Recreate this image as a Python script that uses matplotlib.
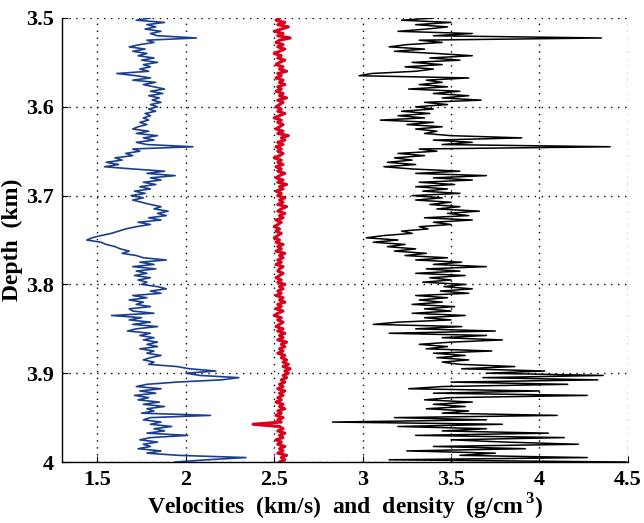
import numpy as np
import matplotlib
matplotlib.use("Agg")
import matplotlib.pyplot as plt

plt.rcParams.update({
    "font.family": "Liberation Serif",
    "font.weight": "bold",
    "mathtext.fontset": "custom",
    "mathtext.rm": "Liberation Serif:bold",
    "mathtext.bf": "Liberation Serif:bold",
})

# depth samples (km), every 2.5 m from 3.5 to 4.0
depth_km = np.round(np.arange(201) * 0.0025 + 3.5, 4)

# shear velocity (km/s), blue
vs = [
    1.80, 1.72, 1.88, 1.78, 1.83, 1.77, 1.86, 1.80, 1.84, 2.06,
    1.78, 1.82, 1.74, 1.68, 1.77, 1.70, 1.78, 1.73, 1.82, 1.75,
    1.84, 1.76, 1.80, 1.74, 1.79, 1.61, 1.72, 1.80, 1.70, 1.83,
    1.76, 1.82, 1.88, 1.80, 1.87, 1.79, 1.85, 1.81, 1.86, 1.80,
    1.84, 1.79, 1.83, 1.77, 1.80, 1.76, 1.79, 1.74, 1.78, 1.73,
    1.70, 1.79, 1.72, 1.84, 1.76, 1.82, 1.72, 1.78, 2.04, 1.70,
    1.74, 1.66, 1.70, 1.60, 1.64, 1.55, 1.62, 1.54, 1.70, 1.88,
    1.78, 1.94, 1.80, 1.86, 1.76, 1.83, 1.74, 1.80, 1.71, 1.77,
    1.69, 1.76, 1.70, 1.75, 1.80, 1.86, 1.82, 1.90, 1.84, 1.89,
    1.79, 1.86, 1.73, 1.80, 1.72, 1.66, 1.62, 1.58, 1.52, 1.47,
    1.44, 1.52, 1.55, 1.60, 1.63, 1.68, 1.64, 1.72, 1.76, 1.89,
    1.74, 1.82, 1.70, 1.83, 1.72, 1.78, 1.71, 1.80, 1.73, 1.78,
    1.75, 1.84, 1.89, 1.80, 1.86, 1.70, 1.78, 1.68, 1.76, 1.72,
    1.80, 1.68, 1.70, 1.82, 1.58, 1.75, 1.68, 1.80, 1.70, 1.84,
    1.72, 1.67, 1.80, 1.74, 1.82, 1.76, 1.84, 1.78, 1.84, 1.74,
    1.82, 1.78, 1.86, 1.80, 1.76, 1.82, 1.79, 1.95, 2.02, 2.17,
    2.00, 2.08, 2.30, 2.20, 1.95, 1.78, 1.72, 1.86, 1.74, 1.83,
    1.71, 1.79, 1.73, 1.85, 1.76, 1.88, 1.78, 1.82, 1.75, 2.14,
    1.80, 1.76, 1.86, 1.80, 1.92, 1.82, 1.88, 1.78, 2.01, 1.80,
    1.74, 1.84, 1.76, 1.80, 1.73, 1.86, 1.78, 1.96, 2.34, 2.12,
    1.94,
]

# density (g/cm3), red
rho = [
    2.53, 2.51, 2.56, 2.52, 2.58, 2.54, 2.50, 2.55, 2.52, 2.59,
    2.53, 2.51, 2.55, 2.52, 2.56, 2.53, 2.50, 2.54, 2.52, 2.56,
    2.53, 2.51, 2.55, 2.53, 2.57, 2.52, 2.54, 2.51, 2.55, 2.53,
    2.56, 2.52, 2.54, 2.51, 2.55, 2.53, 2.57, 2.52, 2.55, 2.53,
    2.51, 2.54, 2.52, 2.56, 2.53, 2.50, 2.54, 2.52, 2.55, 2.53,
    2.51, 2.55, 2.52, 2.58, 2.54, 2.56, 2.52, 2.55, 2.51, 2.54,
    2.52, 2.55, 2.53, 2.50, 2.54, 2.52, 2.55, 2.51, 2.54, 2.52,
    2.56, 2.53, 2.51, 2.55, 2.52, 2.57, 2.53, 2.55, 2.51, 2.54,
    2.52, 2.56, 2.53, 2.55, 2.52, 2.57, 2.54, 2.52, 2.56, 2.53,
    2.55, 2.51, 2.54, 2.52, 2.50, 2.53, 2.51, 2.54, 2.52, 2.50,
    2.53, 2.51, 2.55, 2.52, 2.54, 2.51, 2.56, 2.53, 2.55, 2.52,
    2.54, 2.51, 2.55, 2.53, 2.52, 2.55, 2.53, 2.51, 2.54, 2.52,
    2.56, 2.53, 2.55, 2.52, 2.54, 2.51, 2.55, 2.53, 2.56, 2.52,
    2.54, 2.51, 2.55, 2.52, 2.50, 2.54, 2.52, 2.55, 2.53, 2.51,
    2.55, 2.52, 2.56, 2.53, 2.55, 2.52, 2.57, 2.54, 2.56, 2.53,
    2.55, 2.52, 2.56, 2.54, 2.57, 2.55, 2.58, 2.55, 2.59, 2.56,
    2.58, 2.55, 2.57, 2.54, 2.56, 2.53, 2.55, 2.52, 2.56, 2.53,
    2.55, 2.52, 2.54, 2.51, 2.55, 2.53, 2.56, 2.52, 2.54, 2.51,
    2.55, 2.52, 2.54, 2.38, 2.53, 2.55, 2.52, 2.56, 2.53, 2.55,
    2.51, 2.54, 2.52, 2.56, 2.53, 2.55, 2.52, 2.57, 2.54, 2.56,
    2.53,
]

# compressional velocity (km/s), black
vp = [
    3.40, 3.22, 3.50, 3.30, 3.48, 3.36, 3.20, 3.62, 3.40, 4.35,
    3.32, 3.45, 3.25, 3.15, 3.35, 3.18, 3.42, 3.62, 3.38, 3.55,
    3.28, 3.45, 3.24, 3.40, 3.30, 3.05, 2.98, 3.60, 3.36, 3.45,
    3.32, 3.48, 3.26, 3.55, 3.40, 3.60, 3.45, 3.67, 3.35, 3.48,
    3.30, 3.40, 3.22, 3.38, 3.20, 3.35, 3.10, 3.40, 3.25, 3.45,
    3.30, 3.42, 3.35, 3.50, 3.90, 3.40, 3.62, 3.45, 4.40, 3.32,
    3.42, 3.20, 3.35, 3.18, 3.28, 3.14, 3.30, 3.12, 3.28, 3.55,
    3.30, 3.70, 3.40, 3.62, 3.32, 3.52, 3.30, 3.48, 3.34, 3.55,
    3.28, 3.45, 3.30, 3.50, 3.38, 3.55, 3.42, 3.66, 3.48, 3.60,
    3.35, 3.62, 3.40, 3.50, 3.32, 3.37, 3.22, 3.28, 3.12, 3.02,
    3.20, 3.06, 3.24, 3.14, 3.30, 3.18, 3.36, 3.24, 3.48, 3.30,
    3.56, 3.40, 3.70, 3.36, 3.55, 3.30, 3.58, 3.38, 3.50, 3.34,
    3.58, 3.46, 3.62, 3.44, 3.60, 3.30, 3.48, 3.32, 3.45, 3.28,
    3.52, 3.35, 3.50, 3.28, 3.58, 3.35, 3.50, 3.20, 3.06, 3.56,
    3.30, 3.75, 3.15, 3.70, 3.45, 3.79, 3.50, 3.32, 3.48, 3.36,
    3.73, 3.40, 3.58, 3.42, 3.60, 3.45, 3.55, 3.86, 3.56, 4.03,
    3.70, 4.36, 3.68, 4.33, 3.50, 4.16, 3.45, 3.26, 4.00, 3.40,
    4.27, 3.50, 3.35, 3.62, 3.40, 3.58, 3.36, 3.60, 3.45, 4.10,
    3.18, 3.70, 2.83, 3.79, 3.20, 3.70, 3.45, 4.05, 3.30, 4.14,
    3.50, 3.80, 4.22, 3.40, 3.92, 3.25, 3.75, 3.55, 4.27, 3.15,
    4.49,
]

x_ticks = [1.5, 2, 2.5, 3, 3.5, 4, 4.5]
x_labels = ["1.5", "2", "2.5", "3", "3.5", "4", "4.5"]
y_ticks = [3.5, 3.6, 3.7, 3.8, 3.9, 4.0]
y_labels = ["3.5", "3.6", "3.7", "3.8", "3.9", "4"]

fig = plt.figure(figsize=(6.44, 5.23), dpi=100)
ax = fig.add_axes([0.0963, 0.1166, 0.8787, 0.849])

ax.plot(vs, depth_km, color="#1b3f8f", linewidth=1.2)
ax.plot(rho, depth_km, color="#d8001c", linewidth=2.2)
ax.plot(vp, depth_km, color="black", linewidth=1.1)

ax.set_xlim(1.3, 4.5)
ax.set_ylim(4.0, 3.5)
ax.set_xticks(x_ticks)
ax.set_xticklabels(x_labels)
ax.set_yticks(y_ticks)
ax.set_yticklabels(y_labels)
ax.tick_params(direction="in", length=4, labelsize=16, pad=6)

ax.grid(True, linestyle=(0, (1, 4)), color="black", linewidth=1.0)
for side in ["top", "right"]:
    ax.spines[side].set_visible(False)
ax.spines["left"].set_linewidth(1.0)
ax.spines["bottom"].set_linewidth(1.0)

ax.set_ylabel("Depth  (km)", fontsize=17, fontweight="bold", labelpad=2)
ax.set_xlabel(r"Velocities  (km/s)  and  density  (g/cm$^{\,3}$)",
              fontsize=17, fontweight="bold", labelpad=1)

fig.savefig("out.png", dpi=100)
